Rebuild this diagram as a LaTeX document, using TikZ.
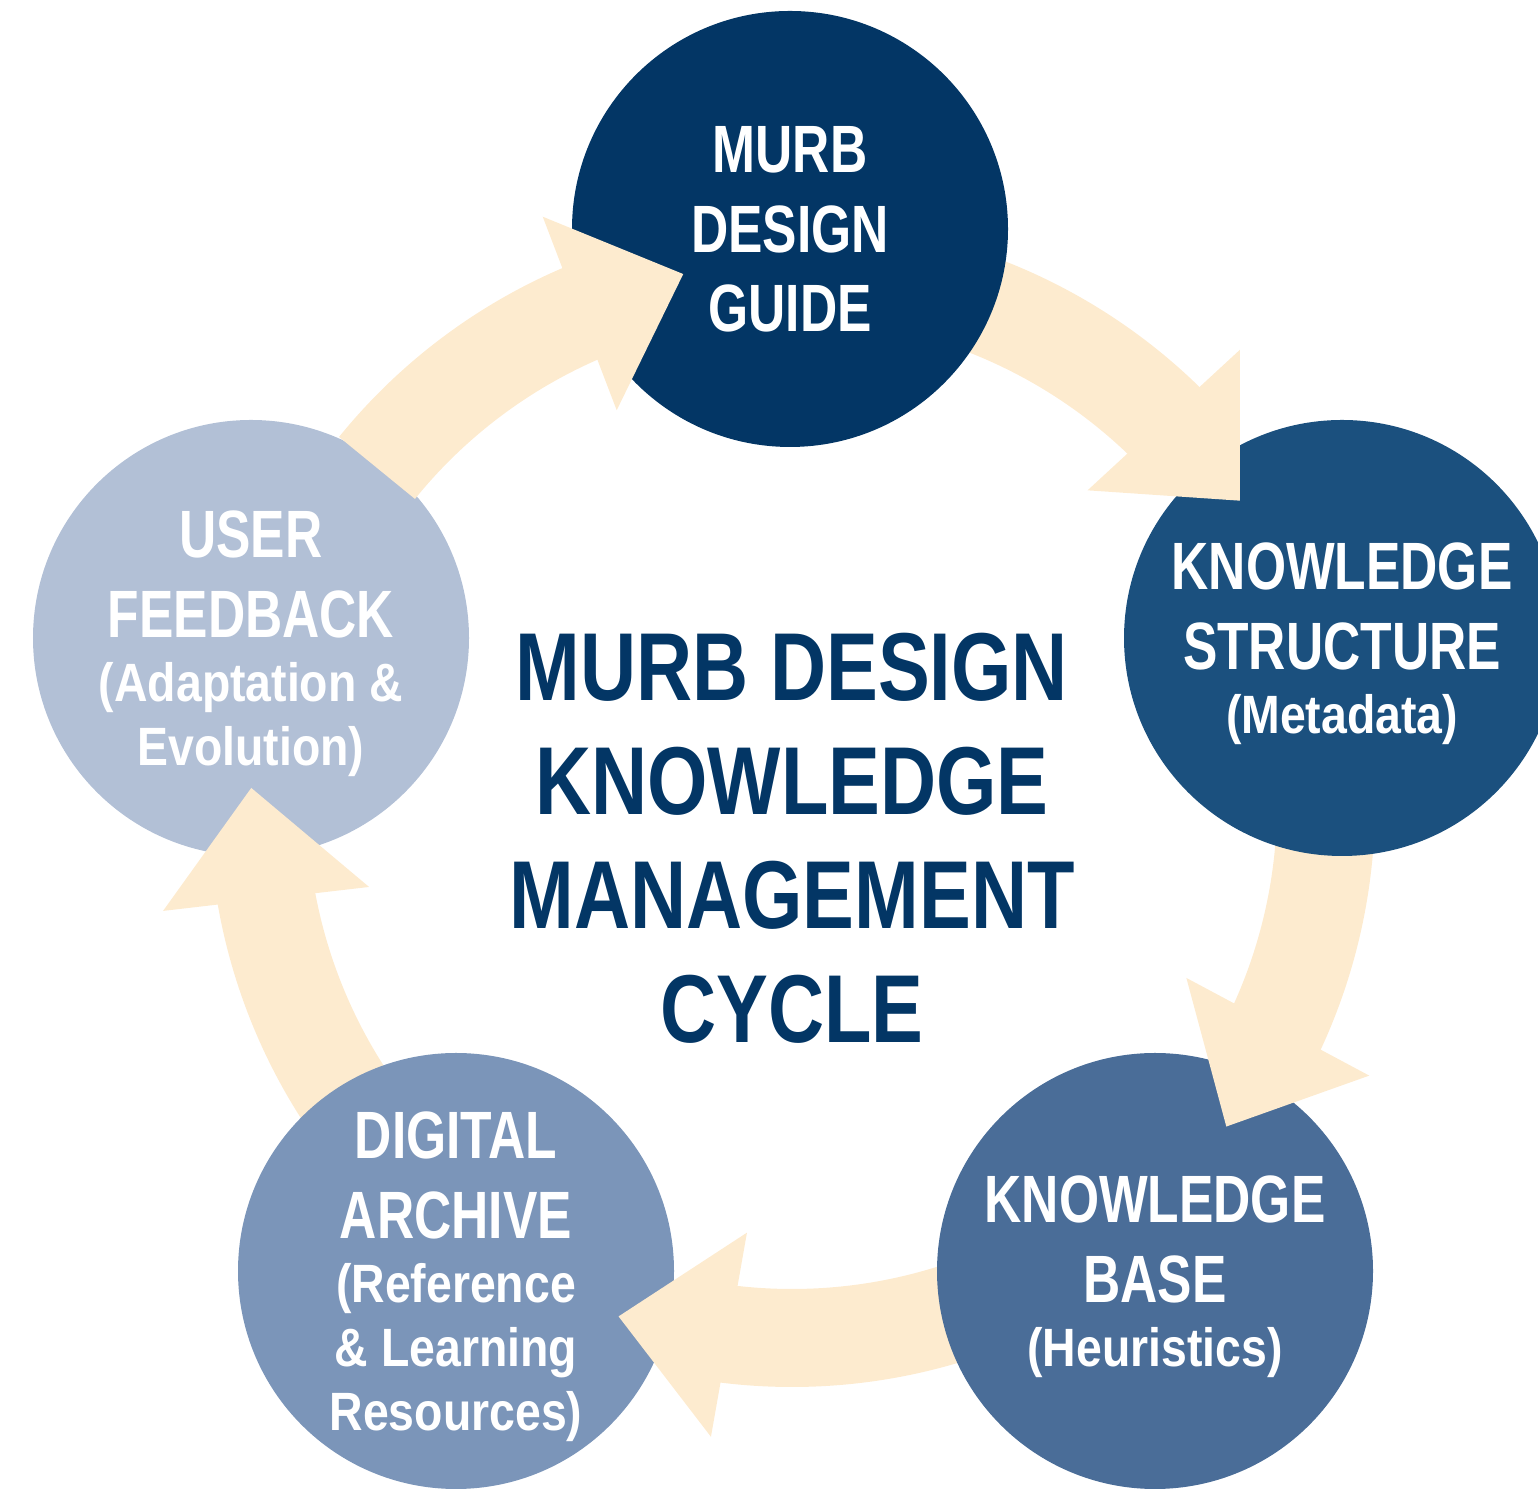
\documentclass[tikz,border=0pt]{standalone}
\usepackage{fontspec}
\setmainfont{Liberation Sans}
\newfontfamily\stagefont[FakeStretch=0.77]{Liberation Sans}
\newfontfamily\notefont[FakeStretch=0.86]{Liberation Sans}
\newfontfamily\cyclefont[FakeStretch=0.805]{Liberation Sans}
\definecolor{guidecol}{RGB}{3,54,101}
\definecolor{structcol}{RGB}{27,80,126}
\definecolor{basecol}{RGB}{74,109,152}
\definecolor{archivecol}{RGB}{123,149,185}
\definecolor{feedcol}{RGB}{178,192,214}
\definecolor{arrowcol}{RGB}{253,235,207}
\newcommand{\stagenote}[1]{{\notefont\fontsize{30.7pt}{36.5pt}\selectfont #1}}
\begin{document}
\begin{tikzpicture}[x=0.2mm, y=0.2mm,
    stage/.style={circle, minimum size=87.2mm, inner sep=0pt, text=white,
      align=center, text depth=0pt,
      font=\stagefont\bfseries\fontsize{38.1pt}{36.5pt}\selectfont},
    band/.style={draw=arrowcol, line width=19.6mm},
    head/.style={fill=arrowcol}]
  \useasboundingbox (0,0) rectangle (1538,1489);
  \coordinate (hub) at (792,685);
  % bands under the circles
  \begin{scope}[shift={(hub)}]
    \draw[band] (80:534) arc[start angle=80, end angle=44, radius=534];
    \draw[band] (10:534) arc[start angle=10, end angle=-26.5, radius=534];
    \draw[band] (-60:534) arc[start angle=-60, end angle=-98, radius=534];
    \draw[band] (-125:534) arc[start angle=-125, end angle=-171.5, radius=534];
  \end{scope}
  % circles
  \node[stage, fill=guidecol] (guide) at (790,1260) {MURB\\[9pt]DESIGN\\[9pt]GUIDE};
  \node[stage, fill=structcol] (struct) at (1342,851)
    {KNOWLEDGE\\[9pt]STRUCTURE\\\stagenote{(Metadata)}};
  \node[stage, fill=basecol] (base) at (1155,218)
    {KNOWLEDGE\\[9pt]BASE\\\stagenote{(Heuristics)}};
  \node[stage, fill=archivecol] (archive) at (456,218)
    {DIGITAL\\[9pt]ARCHIVE\\\stagenote{(Reference}\\\stagenote{\& Learning}\\\stagenote{Resources)}};
  \node[stage, fill=feedcol] (feed) at (251,851)
    {USER\\[9pt]FEEDBACK\\\stagenote{(Adaptation \&}\\\stagenote{Evolution)}};
  % heads over the circles
  \begin{scope}[shift={(hub)}]
    \draw[band] (141:534) arc[start angle=141, end angle=111, radius=534];
    \fill[head] (113.0:638) -- (101.6:541) -- (114.0:431) -- cycle;
    \fill[head] (45.4:638) -- (34.1:541) -- (46.7:431) -- cycle;
    \fill[head] (-25.2:638) -- (-36.6:541) -- (-23.8:431) -- cycle;
    \fill[head] (262.7:638) -- (251.3:541) -- (264.0:431) -- cycle;
    \fill[head] (189.65:638) -- (178.3:541) -- (191.1:431) -- cycle;
  \end{scope}
  % title
  \node[text=guidecol, align=center, text depth=0pt, inner sep=0pt,
    font=\cyclefont\bfseries\fontsize{54.9pt}{64.9pt}\selectfont] (title) at (792,651.5)
    {MURB DESIGN\\KNOWLEDGE\\MANAGEMENT\\CYCLE};
\end{tikzpicture}
\end{document}
